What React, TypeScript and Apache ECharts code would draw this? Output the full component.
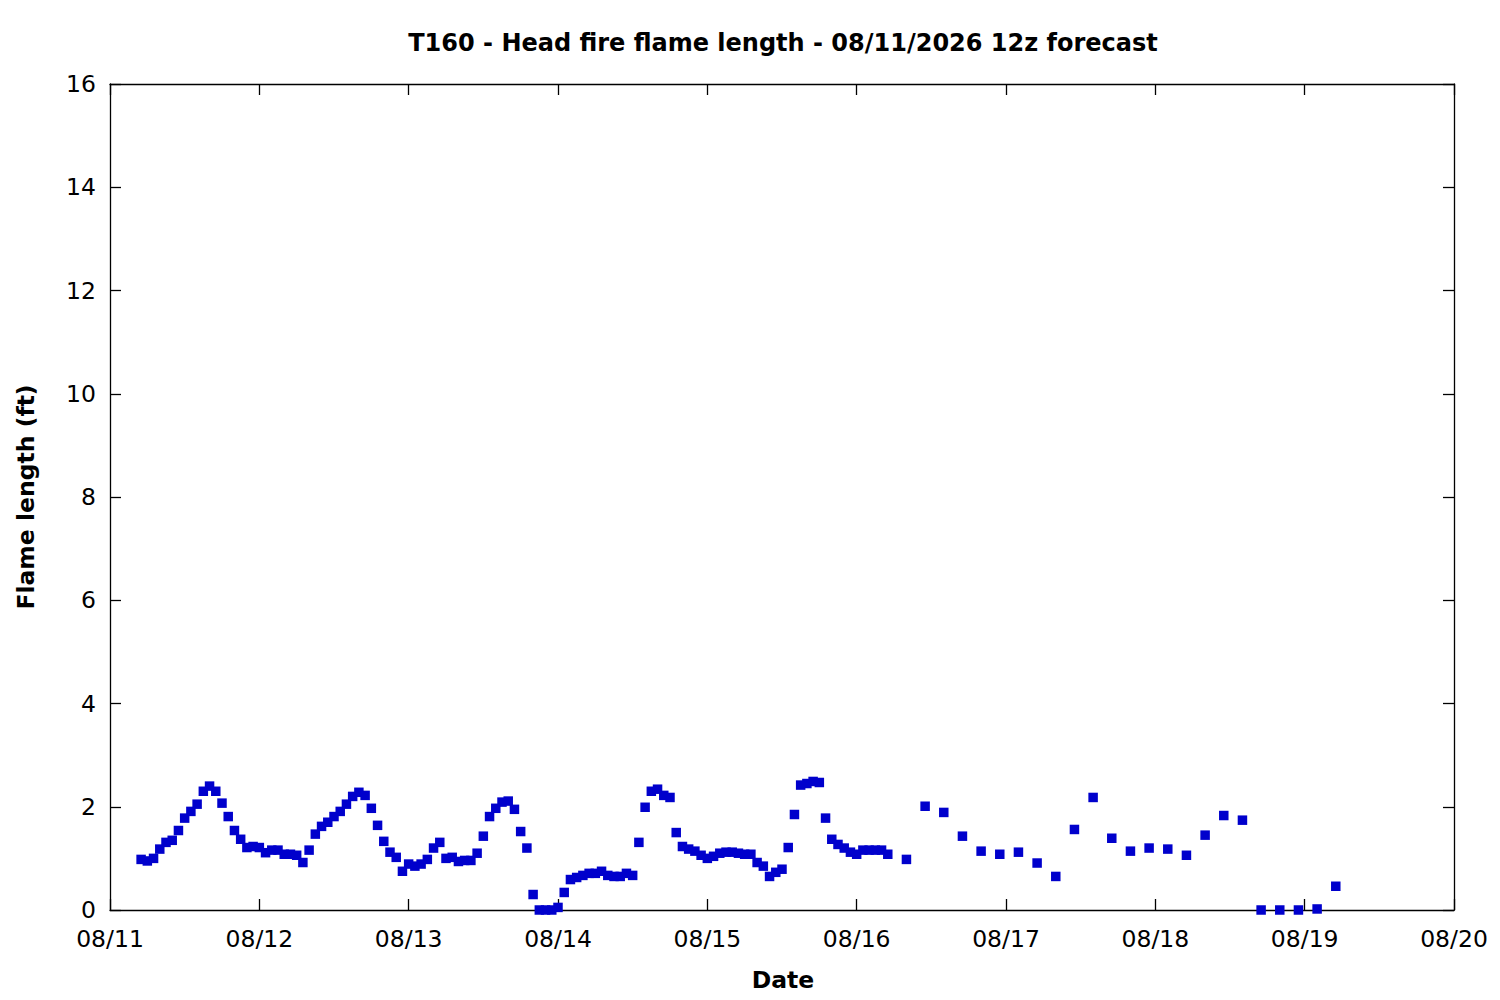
import React, { useEffect, useRef } from "react";
import * as echarts from "echarts";

// Hourly values from 08/11 05z through 08/16 05z
const hourlyStartHour = 5;
const hourlyValues = [
  0.98, 0.95, 1.0, 1.18, 1.31, 1.35, 1.54, 1.78, 1.91, 2.05, 2.3, 2.4, 2.3, 2.07, 1.81, 1.54, 1.37, 1.21, 1.23, 1.21,
  1.11, 1.16, 1.16, 1.08, 1.08, 1.06, 0.92, 1.16, 1.47, 1.62, 1.7, 1.81, 1.91, 2.05, 2.2, 2.28, 2.22, 1.97, 1.64, 1.33,
  1.12, 1.02, 0.75, 0.89, 0.85, 0.89, 0.98, 1.2, 1.31, 1.0, 1.02, 0.94, 0.96, 0.96, 1.1, 1.43, 1.81, 1.97, 2.09, 2.11,
  1.95, 1.52, 1.2, 0.3, 0, 0, 0, 0.05, 0.34, 0.59, 0.63, 0.67, 0.71, 0.71, 0.75, 0.67, 0.65, 0.65, 0.71, 0.67,
  1.31, 1.99, 2.3, 2.34, 2.22, 2.18, 1.5, 1.23, 1.18, 1.14, 1.06, 1.0, 1.04, 1.1, 1.12, 1.12, 1.1, 1.08, 1.08, 0.92,
  0.85, 0.65, 0.73, 0.79, 1.21, 1.85, 2.42, 2.45, 2.49, 2.47, 1.78, 1.37, 1.27, 1.2, 1.12, 1.08, 1.16, 1.16, 1.16, 1.16,
  1.08,
];

// 3-hourly values from 08/16 08z through 08/19 05z
const threeHourlyStartHour = 128;
const threeHourlyValues = [
  0.98, 2.01, 1.89, 1.43, 1.14, 1.08, 1.12, 0.91, 0.65, 1.56, 2.18, 1.39, 1.14, 1.2, 1.18, 1.06, 1.45, 1.83, 1.74, 0,
  0, 0, 0.02, 0.46,
];

const dayLabels = ["08/11", "08/12", "08/13", "08/14", "08/15", "08/16", "08/17", "08/18", "08/19", "08/20"];
const yTicks = [0, 2, 4, 6, 8, 10, 12, 14, 16];

const titleText = "T160 - Head fire flame length - 08/11/2026 12z forecast";
const xName = "Date";
const yName = "Flame length (ft)";

const FONT = "DejaVu Sans";
const FS = 23.5;
const TFS = 24;

export default function App() {
  const ref = useRef<HTMLDivElement>(null);
  useEffect(() => {
    if (!ref.current) return;
    const chart = echarts.init(ref.current, null, { renderer: "svg" });
    const data: [number, number][] = [];
    hourlyValues.forEach((v, i) => data.push([hourlyStartHour + i, v]));
    threeHourlyValues.forEach((v, i) => data.push([threeHourlyStartHour + i * 3, v]));

    const axisLine = { show: true, onZero: false, lineStyle: { color: "#000", width: 1.3 } };
    const axisTick = { show: true, inside: true, length: 11, lineStyle: { color: "#000", width: 1.3 } };
    const labelStyle = { color: "#000", fontFamily: FONT, fontSize: FS };

    chart.setOption({
      animation: false,
      backgroundColor: "#fff",
      grid: { left: 110, right: 46, top: 84, bottom: 90, containLabel: false },
      xAxis: [
        {
          type: "value",
          min: 0,
          max: (dayLabels.length - 1) * 24,
          interval: 24,
          position: "bottom",
          axisLine,
          axisTick,
          splitLine: { show: false },
          axisLabel: {
            ...labelStyle,
            margin: 17,
            lineHeight: FS,
            formatter: (v: number) => dayLabels[Math.round(v / 24)] ?? "",
          },
        },
        {
          type: "value",
          min: 0,
          max: (dayLabels.length - 1) * 24,
          interval: 24,
          position: "top",
          axisLine,
          axisTick,
          splitLine: { show: false },
          axisLabel: { show: false },
        },
      ],
      yAxis: [
        {
          type: "value",
          min: yTicks[0],
          max: yTicks[yTicks.length - 1],
          interval: 2,
          position: "left",
          axisLine,
          axisTick,
          splitLine: { show: false },
          axisLabel: { ...labelStyle, margin: 14 },
        },
        {
          type: "value",
          min: yTicks[0],
          max: yTicks[yTicks.length - 1],
          interval: 2,
          position: "right",
          axisLine,
          axisTick,
          splitLine: { show: false },
          axisLabel: { show: false },
        },
      ],
      graphic: [
        {
          type: "text",
          x: 783,
          y: 42.5,
          style: {
            text: titleText,
            fill: "#000",
            font: `bold ${TFS}px "${FONT}"`,
            align: "center",
            verticalAlign: "middle",
          },
        },
        {
          type: "text",
          x: 783,
          y: 980,
          style: {
            text: xName,
            fill: "#000",
            font: `bold ${FS}px "${FONT}"`,
            align: "center",
            verticalAlign: "middle",
          },
        },
        {
          type: "text",
          x: 26,
          y: 497,
          rotation: Math.PI / 2,
          style: {
            text: yName,
            fill: "#000",
            font: `bold ${FS}px "${FONT}"`,
            align: "center",
            verticalAlign: "middle",
          },
        },
      ],
      series: [
        {
          type: "scatter",
          xAxisIndex: 0,
          yAxisIndex: 0,
          data,
          symbol: "rect",
          symbolSize: 9.5,
          clip: false,
          itemStyle: { color: "#0000cc", opacity: 1 },
          z: 1,
        },
      ],
    });
    return () => chart.dispose();
  }, []);
  return (
    <div
      ref={ref}
      style={{ position: "fixed", left: 0, top: 0, width: 1500, height: 1000, background: "#fff" }}
    />
  );
}
